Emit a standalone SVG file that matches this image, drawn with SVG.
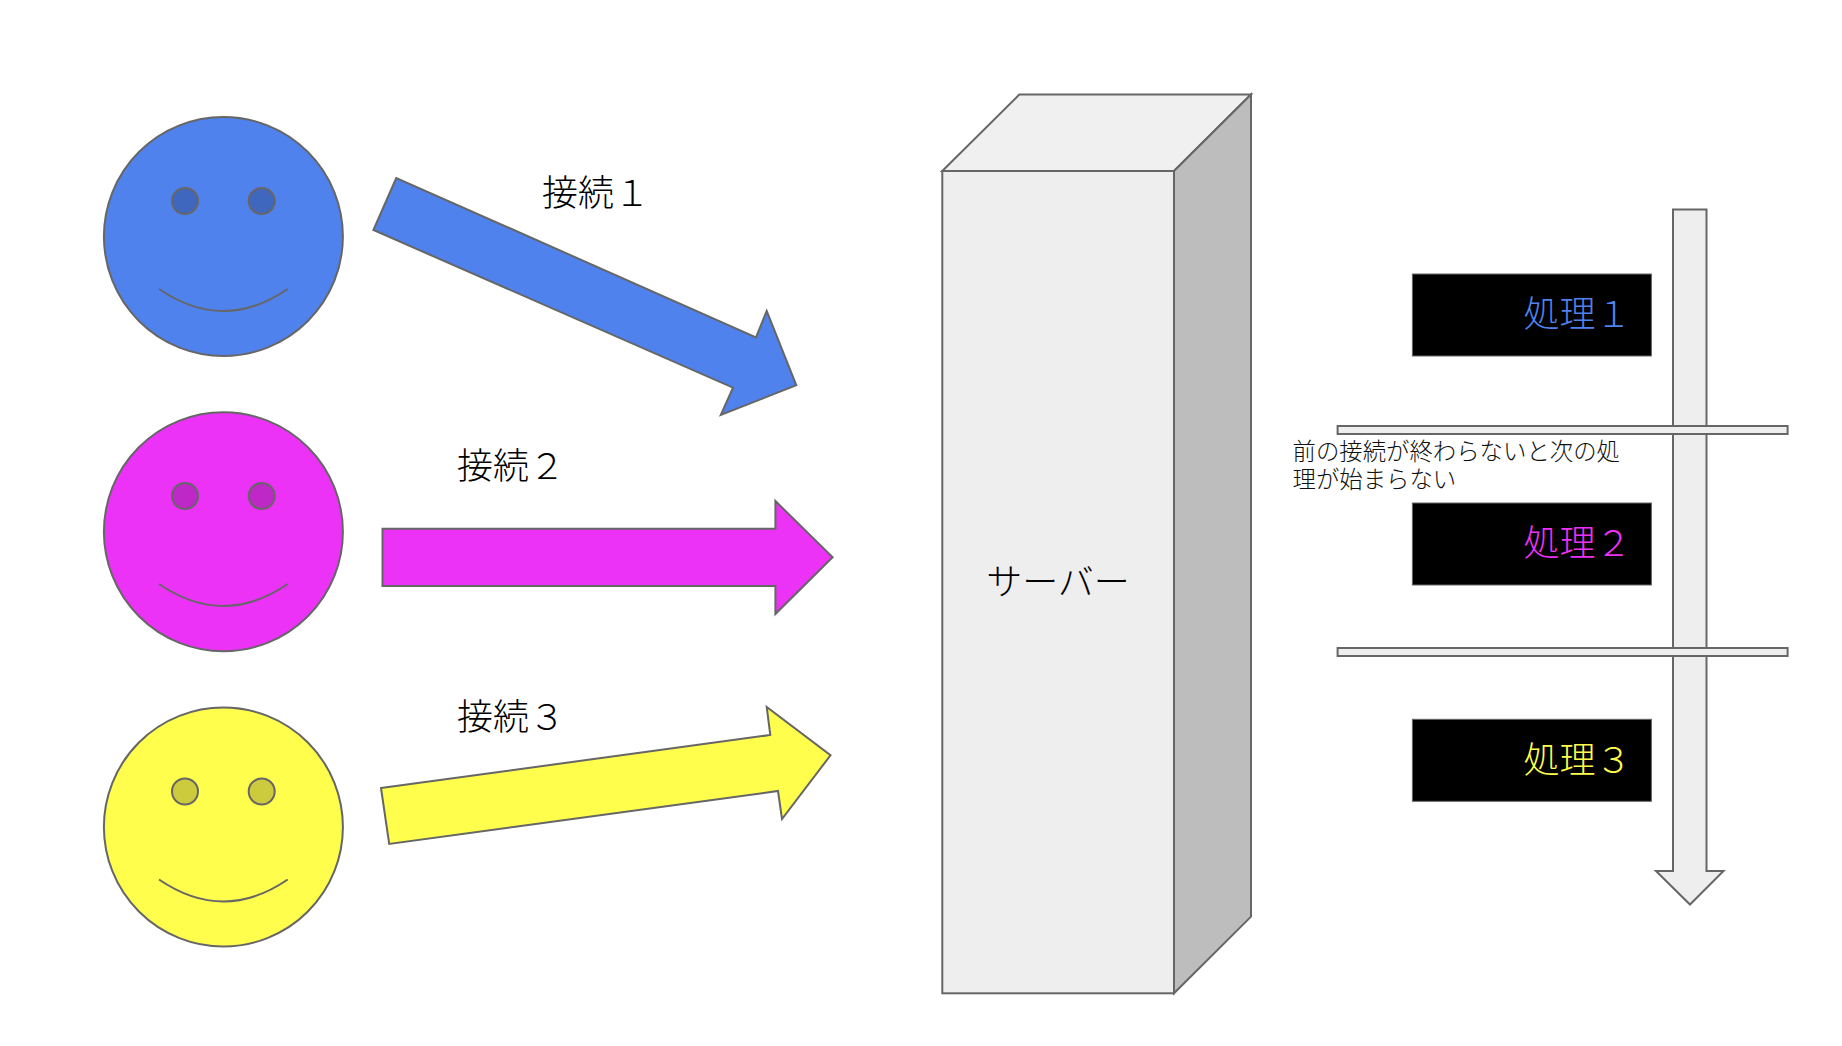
<svg xmlns="http://www.w3.org/2000/svg" width="1842" height="1046" viewBox="0 0 1842 1046">
<defs>
<style>
.o{stroke:#666;stroke-width:2;stroke-linejoin:miter}
.t{font-family:"Noto Sans CJK JP","Noto Sans",sans-serif;font-weight:300;font-size:36px;fill:#000}
.s{font-size:23.4px;fill:#111}
.smile{fill:none;stroke:#666;stroke-width:2}
.box{fill:#000;stroke:#666;stroke-width:1}
.bar{fill:#eee;stroke:#666;stroke-width:2}
.b{fill:#5082ed}.be{fill:#4067be}
.m{fill:#ec32f7}.me{fill:#bd28c6}
.y{fill:#fffe4d}.ye{fill:#cccb3e}
</style>
</defs>
<rect width="1842" height="1046" fill="#fff"/>
<g id="user1">
<circle class="o b" cx="223.4" cy="236.5" r="119.5"/>
<ellipse class="o be" cx="185" cy="201" rx="13" ry="13"/>
<ellipse class="o be" cx="261.7" cy="201" rx="13" ry="13"/>
<path class="smile" d="M159 289Q223.4 333 287.7 289"/>
</g>
<g id="user2">
<circle class="o m" cx="223.4" cy="531.7" r="119.5"/>
<ellipse class="o me" cx="185" cy="496" rx="13" ry="13"/>
<ellipse class="o me" cx="261.7" cy="496" rx="13" ry="13"/>
<path class="smile" d="M159 584Q223.4 628 287.7 584"/>
</g>
<g id="user3">
<circle class="o y" cx="223.4" cy="827" r="119.5"/>
<ellipse class="o ye" cx="185" cy="791.5" rx="13" ry="13"/>
<ellipse class="o ye" cx="261.7" cy="791.5" rx="13" ry="13"/>
<path class="smile" d="M159 879.5Q223.4 923.5 287.7 879.5"/>
</g>
<g id="connectors">
<polygon class="o b" points="396.3,178 373.4,230 733,387.7 720.8,415 796.3,385.3 766.7,311 756,337.3"/>
<polygon class="o m" points="382.5,528.7 775.4,528.7 775.4,501 832.6,557.3 775.4,614 775.4,586 382.5,586"/>
<polygon class="o y" points="381,788 770.3,735 766.7,707 830.5,755.3 782,819 778,791 389.2,844"/>
</g>
<g id="label1"><text class="t" x="542" y="206">接続１</text></g>
<g id="label2"><text class="t" x="457" y="478.5">接続２</text></g>
<g id="label3"><text class="t" x="457" y="730">接続３</text></g>
<g id="server">
<polygon class="o" fill="#f0f0f0" points="942.3,171 1019.3,94.5 1251,94.5 1174,171"/>
<polygon class="o" fill="#bdbdbd" points="1174,171 1251,94.5 1251,916.7 1174,993.3"/>
<rect class="o" fill="#eee" x="942.3" y="171" width="231.7" height="822.3"/>
<text class="t" x="1058" y="595" text-anchor="middle">サーバー</text>
</g>
<g id="timeline">
<polygon class="bar" points="1673,209.5 1706.5,209.5 1706.5,871 1723.5,871 1690,904.5 1656,871 1673,871"/>
</g>
<g id="process1"><rect class="box" x="1412.4" y="274" width="239" height="82"/><text class="t" x="1523.5" y="327" style="fill:#5082ed">処理１</text></g>
<g id="process2"><rect class="box" x="1412.4" y="503" width="239" height="82"/><text class="t" x="1523.5" y="556" style="fill:#ec32f7">処理２</text></g>
<g id="process3"><rect class="box" x="1412.4" y="719.3" width="239" height="82"/><text class="t" x="1523.5" y="773" style="fill:#fffe4d">処理３</text></g>
<g id="bar1"><rect class="bar" x="1337.6" y="426" width="450" height="8"/></g>
<g id="bar2"><rect class="bar" x="1337.6" y="648" width="450" height="8"/></g>
<g id="note">
<text class="t s" x="1292.5" y="460">前の接続が終わらないと次の処<tspan x="1292.5" dy="28">理が始まらない</tspan></text>
</g>
</svg>
